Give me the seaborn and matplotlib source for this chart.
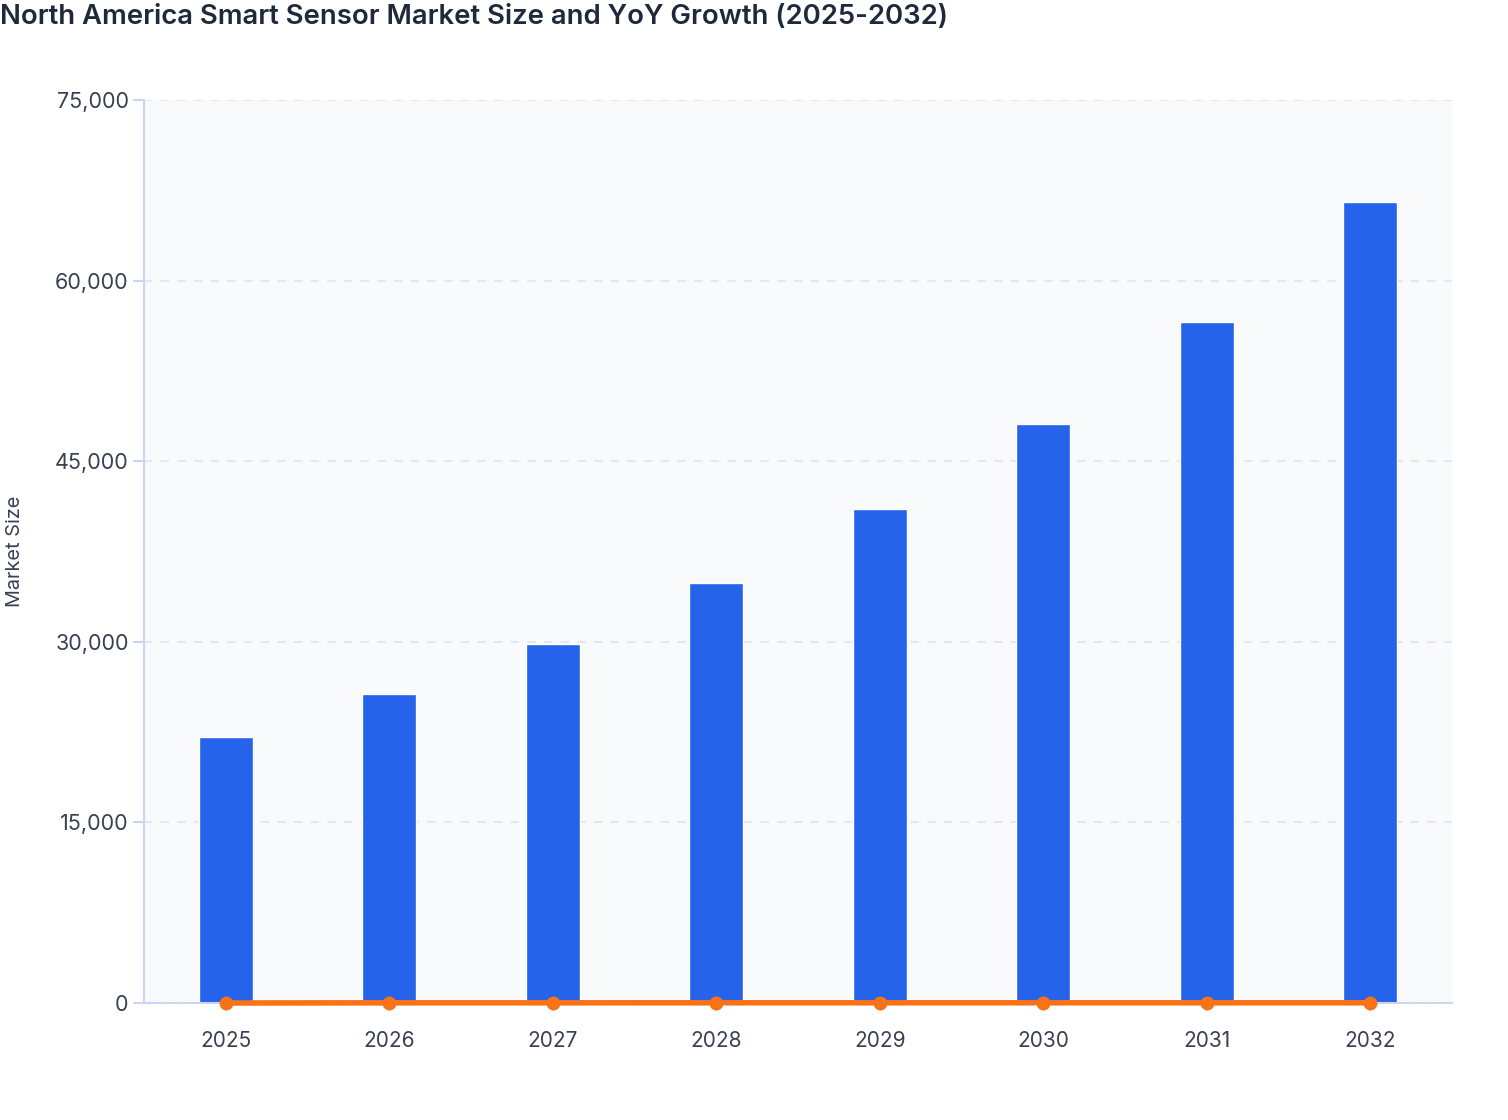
import matplotlib
matplotlib.use("Agg")
import matplotlib.pyplot as plt
import matplotlib.ticker as mticker
import seaborn as sns
import pandas as pd

years = ["2025", "2026", "2027", "2028", "2029", "2030", "2031", "2032"]
market_size = [22100, 25650, 29800, 34850, 41000, 48050, 56550, 66550]
yoy_growth = [0, 15.8, 16.2, 17.0, 17.5, 17.4, 17.7, 17.7]

df = pd.DataFrame({"Year": years, "Market Size": market_size, "YoY Growth": yoy_growth})

sns.set_theme(style="white")
plt.rcParams["font.family"] = ["Inter", "DejaVu Sans"]

fig = plt.figure(figsize=(15.08, 11.2), dpi=100)
ax = fig.add_axes([144 / 1508, 1 - 1003 / 1120, (1452 - 144) / 1508, (1003 - 100) / 1120])
ax.set_facecolor("#F8FAFC")

sns.barplot(data=df, x="Year", y="Market Size", color="#2563EB", width=0.33,
            saturation=1, ax=ax, zorder=2)
sns.pointplot(data=df, x="Year", y="YoY Growth", color="#F97316", ax=ax,
              markers="o", markersize=7, linewidth=4, zorder=4)
for coll in ax.collections:
    coll.set_clip_on(False)
for ln in ax.lines:
    ln.set_clip_on(False)

ax.set_xlim(-0.5, 7.5)
ax.set_ylim(0, 75000)
ax.yaxis.set_major_locator(mticker.MultipleLocator(15000))
ax.yaxis.set_major_formatter(mticker.FuncFormatter(lambda v, p: f"{int(v):,}"))
ax.grid(axis="y", color="#E2E8F0", linestyle=(0, (4, 4)), linewidth=1.5, zorder=0)
ax.set_axisbelow(True)

spine_c = "#CBD5F0"
for s in ["top", "right"]:
    ax.spines[s].set_visible(False)
for s in ["left", "bottom"]:
    ax.spines[s].set_color(spine_c)
    ax.spines[s].set_linewidth(1.5)

ax.tick_params(axis="y", labelsize=15.5, length=8, width=1.5,
               color=spine_c, pad=3, left=True)
ax.tick_params(axis="x", labelsize=15, length=6, width=1.5,
               color=spine_c, pad=14, bottom=True)
for lab in ax.get_xticklabels() + ax.get_yticklabels():
    lab.set_color("#374151")

ax.set_xlabel("")
ax.set_ylabel("Market Size", fontsize=14.3, color="#374151", labelpad=0)
ax.yaxis.set_label_coords(-120 / 1308, 0.5)

fig.text(0.0, 1 - 17 / 1120, "North America Smart Sensor Market Size and YoY Growth (2025-2032)",
         fontsize=19.8, fontweight="semibold", color="#1E293B", ha="left", va="center")

fig.savefig("out.png", dpi=100, facecolor="white")
